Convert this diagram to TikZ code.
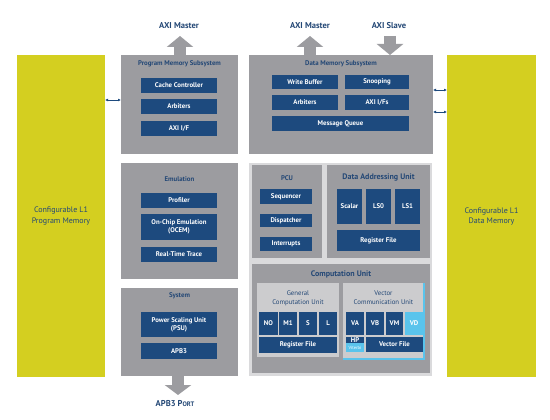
\documentclass[tikz,border=0pt]{standalone}
\usepackage{fontspec}
\setmainfont{PT Sans}
\usetikzlibrary{arrows.meta,positioning}
\definecolor{l1yellow}{RGB}{212,207,32}
\definecolor{subgray}{RGB}{156,156,160}
\definecolor{backgray}{RGB}{218,218,220}
\definecolor{innergray}{RGB}{204,204,206}
\definecolor{unitblue}{RGB}{29,74,126}
\definecolor{titleblue}{RGB}{36,72,118}
\definecolor{vdcyan}{RGB}{90,196,236}
\tikzset{
  sz/.style 2 args={minimum width=#1pt,minimum height=#2pt},
  blk/.style={rectangle,inner sep=0pt,outer sep=0pt,align=center},
  memblock/.style={blk,fill=l1yellow,text=titleblue,font=\fontsize{8}{10}\selectfont},
  subsys/.style={blk,fill=subgray},
  unit/.style={blk,fill=unitblue,text=white,font=\bfseries\fontsize{6.8}{8}\selectfont},
  title/.style={text=titleblue,align=center,inner sep=0pt,font=\bfseries\fontsize{6.8}{8}\selectfont},
  bigtitle/.style={title,font=\bfseries\fontsize{8}{9.5}\selectfont},
  portlabel/.style={text=titleblue,inner sep=0pt,font=\bfseries\fontsize{8.5}{10}\selectfont},
  fatarrow/.style={draw=subgray,line width=12pt,-{Triangle[width=26pt,length=11pt]}},
  memlink/.style={draw=unitblue,line width=0.9pt,{Latex[length=3pt,width=3pt]}-{Latex[length=3pt,width=3pt]}},
}
\begin{document}
\begin{tikzpicture}[x=1pt,y=-1pt]
\useasboundingbox[fill=white] (0,0) rectangle (550,420);
% L1 memories
\node[memblock,sz={88}{322}] (lmem) at (61,216) {Configurable L1\\Program Memory};
\node[memblock,sz={89}{322}] (rmem) at (491.5,216) {Configurable L1\\Data Memory};
% program memory subsystem
\node[subsys,sz={117}{99}] (pms) at (179.5,104.5) {};
\node[title] (pms-t) at (179.5,64) {Program Memory Subsystem};
\node[unit,sz={76}{15}] (cache) at (179,85.5) {Cache Controller};
\node[unit,sz={76}{15}] (parb) at (179,106.5) {Arbiters};
\node[unit,sz={76}{15}] (paxi) at (179,128.5) {AXI I/F};
% data memory subsystem
\node[subsys,sz={184}{99}] (dms) at (341,104.5) {};
\node[title] (dms-t) at (341,64) {Data Memory Subsystem};
\node[unit,sz={66}{14}] (wbuf) at (305,82) {Write Buffer};
\node[unit,sz={64}{14}] (snoop) at (377,82) {Snooping};
\node[unit,sz={66}{15}] (darb) at (305,102.5) {Arbiters};
\node[unit,sz={64}{15}] (daxi) at (377,102.5) {AXI I/Fs};
\node[unit,sz={137}{15}] (msgq) at (340.5,123.5) {Message Queue};
% emulation
\node[subsys,sz={117}{116}] (emu) at (179.5,221) {};
\node[title] (emu-t) at (179.5,179) {Emulation};
\node[unit,sz={76}{15}] (prof) at (179,200.5) {Profiler};
\node[unit,sz={76}{26}] (ocem) at (179,227) {On-Chip Emulation\\(OCEM)};
\node[unit,sz={76}{15}] (rtt) at (179,254.5) {Real-Time Trace};
% system
\node[subsys,sz={117}{88}] (sys) at (179.5,332) {};
\node[title] (sys-t) at (179.5,296) {System};
\node[unit,sz={76}{25}] (psu) at (179,324.5) {Power Scaling Unit\\(PSU)};
\node[unit,sz={76}{16}] (apb) at (179,351) {APB3};
% core
\node[blk,fill=backgray,sz={183}{213}] (core) at (340.5,269.5) {};
\node[subsys,sz={70}{93}] (pcu) at (287,211.5) {};
\node[title] (pcu-t) at (287,178) {PCU};
\node[unit,sz={52}{15}] (seq) at (286,196.5) {Sequencer};
\node[unit,sz={52}{13}] (disp) at (286,220.5) {Dispatcher};
\node[unit,sz={52}{14}] (intr) at (286,244) {Interrupts};
\node[subsys,sz={103}{93}] (dau) at (378.5,211.5) {};
\node[bigtitle] (dau-t) at (378.5,178) {Data Addressing Unit};
\node[unit,sz={25}{35}] (scalar) at (349.5,206.5) {Scalar};
\node[unit,sz={25}{35}] (ls0) at (378.5,206.5) {LS0};
\node[unit,sz={25}{35}] (ls1) at (407.5,206.5) {LS1};
\node[unit,sz={83}{21}] (daurf) at (378.5,240.5) {Register File};
% computation unit
\node[subsys,sz={178}{109}] (cu) at (341,318.5) {};
\node[bigtitle] (cu-t) at (341,274) {Computation Unit};
\node[blk,fill=innergray,sz={82}{74}] (gcu) at (298,320) {};
\node[title,font=\fontsize{6.8}{9}\selectfont] (gcu-t) at (298,298) {General\\Computation Unit};
\node[unit,sz={19}{23}] (no) at (268.5,323.5) {NO};
\node[unit,sz={18}{23}] (m1) at (288,323.5) {M1};
\node[unit,sz={18}{23}] (su) at (308,323.5) {S};
\node[unit,sz={18}{23}] (lu) at (328,323.5) {L};
\node[unit,sz={78}{16}] (gcurf) at (298,345) {Register File};
\node[blk,fill=innergray,sz={81}{76}] (vcu) at (383.5,321) {};
\draw[vdcyan,line width=1.6pt] (vcu.north east) -- (vcu.south east) -- (vcu.south west);
\node[title,font=\fontsize{6.8}{9}\selectfont] (vcu-t) at (383.5,298) {Vector\\Communication Unit};
\node[unit,sz={18}{23}] (va) at (355,323.5) {VA};
\node[unit,sz={18}{23}] (vb) at (375,323.5) {VB};
\node[unit,sz={17}{23}] (vm) at (394.5,323.5) {VM};
\node[unit,fill=vdcyan,sz={18}{23}] (vd) at (414,323.5) {VD};
\node[unit,sz={18}{6}] (hp) at (355,340) {HP};
\node[unit,fill=vdcyan,font=\fontsize{4.5}{5}\selectfont,sz={18}{9}] (vit) at (355,347.5) {Viterbi};
\node[unit,sz={57}{15}] (vfile) at (394.5,344.5) {Vector File};
% ports
\node[portlabel] (pms-m) at (179,26) {AXI Master};
\node[portlabel] (dms-m) at (310,26) {AXI Master};
\node[portlabel] (dms-s) at (389,26) {AXI Slave};
\node[portlabel] (apb-p) at (175,404) {APB3 P{\fontsize{6.5}{8}\selectfont ORT}};
\coordinate (pms-mc) at (180,36);
\coordinate (dms-mc) at (310,36);
\coordinate (dms-sc) at (390,36);
\coordinate (apb-pc) at (178,395);
\draw[fatarrow] (pms.north -| pms-mc) -- (pms-mc);
\draw[fatarrow] (dms.north -| dms-mc) -- (dms-mc);
\draw[fatarrow] (dms-sc) -- (dms.north -| dms-sc);
\draw[fatarrow,-{Triangle[width=26pt,length=10pt]}] (sys.south -| apb-pc) -- (apb-pc);
% memory links
\draw[memlink] (lmem.east |- 0,100) -- (pms.west |- 0,100);
\draw[memlink] (dms.east |- 0,90) -- (rmem.west |- 0,90);
\draw[memlink] (dms.east |- 0,112) -- (rmem.west |- 0,112);
\end{tikzpicture}
\end{document}
